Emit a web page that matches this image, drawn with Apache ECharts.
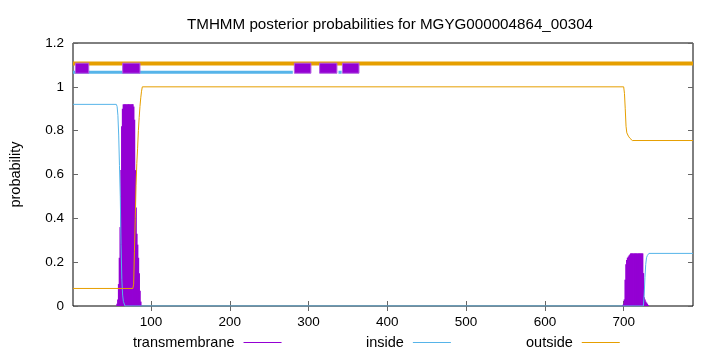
<!DOCTYPE html>
<html>
<head>
<meta charset="utf-8">
<script src="https://cdn.jsdelivr.net/npm/echarts@6/dist/echarts.min.js"></script>
<style>
  html, body { margin: 0; padding: 0; background: #fff; }
  #chart { width: 720px; height: 352px; }
</style>
</head>
<body>
<div id="chart"></div>
<script>
// sequence range and axis ticks
const seqStart = 1;
const seqEnd = 788;
const xTickValues = [100, 200, 300, 400, 500, 600, 700];

// per-residue transmembrane probability (impulses), [residue, prob]
const transmembrane = [
  [57, 0.01], [58, 0.03], [59, 0.10], [60, 0.22], [61, 0.36], [62, 0.62], [63, 0.82], [64, 0.90],
  [65, 0.92], [66, 0.92], [67, 0.92], [68, 0.92], [69, 0.92], [70, 0.92], [71, 0.92], [72, 0.92],
  [73, 0.92], [74, 0.92], [75, 0.92], [76, 0.92], [77, 0.92], [78, 0.91], [79, 0.85], [80, 0.62],
  [81, 0.45], [82, 0.33], [83, 0.28], [84, 0.22], [85, 0.15], [86, 0.07], [87, 0.02],
  [699, 0.005], [700, 0.01], [701, 0.03], [702, 0.12], [703, 0.19], [704, 0.21], [705, 0.22],
  [706, 0.225], [707, 0.23], [708, 0.235], [709, 0.24], [710, 0.24], [711, 0.24], [712, 0.24],
  [713, 0.24], [714, 0.24], [715, 0.24], [716, 0.24], [717, 0.24], [718, 0.24], [719, 0.24],
  [720, 0.24], [721, 0.24], [722, 0.24], [723, 0.24], [724, 0.24], [725, 0.15], [726, 0.04],
  [727, 0.03], [728, 0.02], [729, 0.015], [730, 0.01], [731, 0.005]
];

// inside probability
const inside = [
  [1, 0.92], [56, 0.92], [57, 0.91], [58, 0.87], [59, 0.78], [60, 0.64], [61, 0.50], [62, 0.28],
  [63, 0.12], [64, 0.05], [65, 0.02], [67, 0], [725, 0], [726, 0.05], [727, 0.13], [728, 0.19],
  [729, 0.22], [730, 0.23], [732, 0.24], [788, 0.24]
];

// outside probability
const outside = [
  [1, 0.08], [77, 0.08], [78, 0.10], [79, 0.25], [80, 0.40], [81, 0.55], [82, 0.65], [83, 0.72],
  [84, 0.80], [85, 0.86], [86, 0.91], [87, 0.95], [88, 0.98], [89, 1.0], [700, 1.0], [701, 0.97],
  [702, 0.90], [703, 0.82], [704, 0.79], [706, 0.775], [708, 0.765], [711, 0.755], [788, 0.755]
];

// predicted topology bands at top of plot
const outsideBandLevel = 1.107;
const insideBandLevel = 1.066;
const insideBand = [[1, insideBandLevel], [280, insideBandLevel], [310, '-'], [338, insideBandLevel], [342, insideBandLevel]];
const outsideBand = [[1, outsideBandLevel], [788, outsideBandLevel]];
const tmBoxes = [[4, 21], [64, 86], [282, 303], [314, 336], [343, 364]];
const tmBoxLow = 1.062;
const tmBoxHigh = 1.108;

const purple = '#9400D3';
const blue = '#56B4E9';
const orange = '#E69F00';
const font = 'Liberation Sans, Arial, sans-serif';

const chart = echarts.init(document.getElementById('chart'));

const legendBase = {
  orient: 'horizontal',
  align: 'right',
  top: 330,
  itemWidth: 38,
  itemHeight: 1,
  itemGap: 0,
  icon: 'rect',
  textStyle: { fontFamily: font, fontSize: 14.5, color: '#000', padding: [0, 4, 0, 0] },
  selectedMode: false
};

const option = {
  animation: false,
  backgroundColor: '#fff',
  title: {
    text: 'TMHMM posterior probabilities for MGYG000004864_00304',
    left: 385,
    top: 12,
    textAlign: 'center',
    textStyle: { fontFamily: font, fontSize: 15.2, fontWeight: 'normal', color: '#000' }
  },
  legend: [
    Object.assign({}, legendBase, { left: 128, data: ['transmembrane'] }),
    Object.assign({}, legendBase, { left: 361, data: ['inside'] }),
    Object.assign({}, legendBase, { left: 521, data: ['outside'] })
  ],
  grid: {
    left: 73, right: 27, top: 43, bottom: 46,
    show: true, borderColor: '#000', borderWidth: 1, backgroundColor: 'transparent'
  },
  xAxis: [
    {
      type: 'value', min: seqStart, max: seqEnd,
      axisLine: { show: false },
      splitLine: { show: false },
      axisTick: { show: true, inside: true, length: 5, customValues: xTickValues, lineStyle: { color: '#666' } },
      axisLabel: { customValues: xTickValues, margin: 9, fontFamily: font, fontSize: 13.5, color: '#000' }
    },
    {
      type: 'value', min: seqStart, max: seqEnd, position: 'top',
      axisLine: { show: false },
      splitLine: { show: false },
      axisTick: { show: true, inside: true, length: 5, customValues: xTickValues, lineStyle: { color: '#666' } },
      axisLabel: { show: false }
    }
  ],
  yAxis: [
    {
      type: 'value', min: 0, max: 1.2, interval: 0.2,
      name: 'probability', nameLocation: 'middle', nameGap: 50,
      nameTextStyle: { fontFamily: font, fontSize: 14.5, color: '#000' },
      axisLine: { show: false },
      splitLine: { show: false },
      axisTick: { show: true, inside: true, length: 5, lineStyle: { color: '#666' } },
      axisLabel: { margin: 9, fontFamily: font, fontSize: 13.5, color: '#000' }
    },
    {
      type: 'value', min: 0, max: 1.2, interval: 0.2, position: 'right',
      axisLine: { show: false },
      splitLine: { show: false },
      axisTick: { show: true, inside: true, length: 5, lineStyle: { color: '#666' } },
      axisLabel: { show: false }
    }
  ],
  series: [
    {
      name: 'transmembrane', type: 'bar', data: transmembrane,
      barWidth: 1.6, itemStyle: { color: purple }, z: 3
    },
    {
      name: 'inside', type: 'line', data: inside, showSymbol: false,
      lineStyle: { color: blue, width: 1 }, itemStyle: { color: blue }, z: 4
    },
    {
      name: 'outside', type: 'line', data: outside, showSymbol: false,
      lineStyle: { color: orange, width: 1 }, itemStyle: { color: orange }, z: 4
    },
    {
      name: 'outside band', type: 'line', data: outsideBand, showSymbol: false,
      lineStyle: { color: orange, width: 4 }, z: 5
    },
    {
      name: 'inside band', type: 'line', data: insideBand, showSymbol: false, connectNulls: false,
      lineStyle: { color: blue, width: 3 }, z: 5
    },
    {
      name: 'tm band', type: 'custom', data: tmBoxes, z: 6,
      encode: { x: [0, 1] },
      renderItem: function (params, api) {
        const p1 = api.coord([api.value(0), tmBoxHigh]);
        const p2 = api.coord([api.value(1), tmBoxLow]);
        return {
          type: 'rect',
          shape: { x: p1[0], y: p1[1], width: p2[0] - p1[0], height: p2[1] - p1[1] },
          style: { fill: purple, stroke: '#b35ee0', lineWidth: 1 }
        };
      }
    }
  ]
};

chart.setOption(option);
</script>
</body>
</html>
